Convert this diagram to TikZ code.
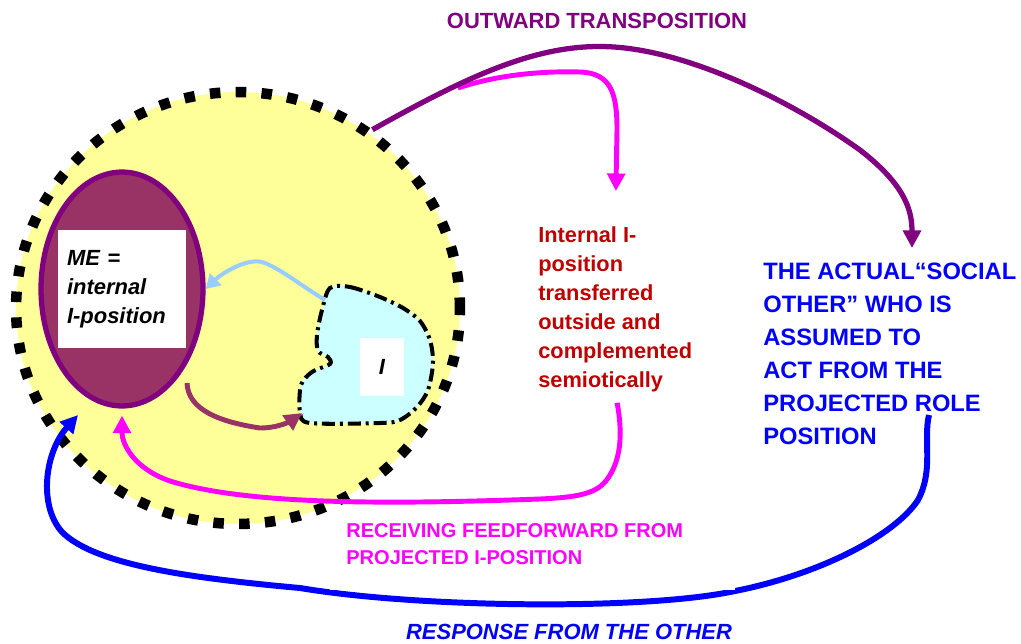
\documentclass[tikz,border=0pt]{standalone}
\usepackage{fontspec}
\setmainfont{Liberation Sans}
\usetikzlibrary{positioning, shapes.geometric, arrows.meta}
\definecolor{selfyellow}{HTML}{FFFF99}
\definecolor{mepurple}{HTML}{800080}
\definecolor{memaroon}{HTML}{993366}
\definecolor{icyan}{HTML}{CCFFFF}
\definecolor{skyarrow}{HTML}{99CCFF}
\definecolor{feedmagenta}{HTML}{FF00FF}
\definecolor{otherblue}{HTML}{0000FF}
\definecolor{transred}{HTML}{C00000}

\begin{document}
\begin{tikzpicture}[x=0.02cm, y=-0.02cm,
    flow/.style={line width=2.8pt, -{Triangle[length=10pt, width=10pt]}},
    whitebox/.style={fill=white, inner sep=0pt},
    notetext/.style={align=left, inner sep=0pt, anchor=north west}]
  \useasboundingbox (0,0) rectangle (1021,643);

  % the self, with the I-positions inside
  \node[ellipse, fill=selfyellow, draw=black, line width=6pt,
        dash pattern=on 6pt off 8.7pt,
        minimum width=8.88cm, minimum height=8.64cm] (self) at (238,308) {};
  \node[ellipse, fill=memaroon, draw=mepurple, line width=3pt,
        minimum width=3.24cm, minimum height=4.68cm] (me) at (122,289) {};
  \node[whitebox, minimum width=2.56cm, minimum height=2.36cm,
        text width=2.2cm, align=left,
        font=\fontsize{12.5}{16.5}\selectfont\bfseries\itshape] (metext) at (me)
    {ME =\\internal\\I-position};

  % the I
  \draw[fill=icyan, line width=2.3pt,
        dash pattern=on 7.4pt off 2.8pt on 1.7pt off 2.8pt]
    plot[smooth cycle] coordinates {(330,288) (350,287) (380,297) (403,308)
      (420,321) (430,340) (433,363) (428,390) (417,407) (400,420) (380,423)
      (310,423) (300,412) (301,385) (312,372) (330,364) (328,357) (318,351)
      (317,335) (322,310)};
  \node[whitebox, minimum width=0.88cm, minimum height=1.16cm,
        font=\fontsize{12.5}{15}\selectfont\bfseries\itshape] (itext) at (382,367) {I};

  \coordinate (blobtop) at (325,300);
  \coordinate (blobfoot) at (302,413);
  \coordinate (mefoot) at (187,383);

  \draw[flow, skyarrow, line width=2.3pt, -{Triangle[length=8pt, width=9pt]}]
    (blobtop) .. controls (300,285) and (280,268) .. (262,262)
    .. controls (245,258) and (220,275) .. (me.east);
  \draw[flow, memaroon] (mefoot) .. controls (188,410) and (220,422) .. (260,428)
    .. controls (280,428) and (292,420) .. (blobfoot);

  % texts
  \node[font=\fontsize{12.5}{15}\selectfont\bfseries, mepurple] (outward) at (597,21)
    {OUTWARD TRANSPOSITION};
  \node[notetext, transred, font=\fontsize{12.4}{16.5}\selectfont\bfseries] (internal) at (538,226)
    {Internal I-\\position\\transferred\\outside and\\complemented\\semiotically};
  \node[notetext, otherblue, font=\fontsize{13.5}{18.7}\selectfont\bfseries] (other) at (763,263)
    {THE ACTUAL“SOCIAL\\OTHER” WHO IS\\ASSUMED TO\\ACT FROM THE\\PROJECTED ROLE\\POSITION};
  \node[font=\fontsize{12.5}{15}\selectfont\bfseries\itshape, otherblue] (response) at (569,632)
    {RESPONSE FROM THE OTHER};

  \coordinate (fork) at (458,88);
  \coordinate (othertop) at (912,248);
  \coordinate (otherfoot) at (929,415);
  \coordinate (backtip) at (78,415);

  % outward transposition
  \draw[flow, feedmagenta, shorten >=0.7cm] (fork) .. controls (500,74) and (545,71) .. (580,72)
    .. controls (612,73) and (617,95) .. (617,130) -- (internal.north);
  \draw[flow, mepurple, line width=3pt] (self.53) .. controls (470,75) and (540,42) .. (614,47)
    .. controls (690,52) and (790,100) .. (860,150)
    .. controls (905,185) and (912,210) .. (othertop);

  % feedforward and response
  \draw[flow, feedmagenta, shorten <=0.22cm, shorten >=0.14cm] (internal.south)
    .. controls (622,430) and (622,455) .. (610,475)
    .. controls (600,492) and (585,497) .. (540,499)
    .. controls (400,504) and (250,506) .. (170,481)
    .. controls (135,469) and (122,445) .. (me.south);
  \draw[flow, otherblue, line width=3.4pt] (otherfoot)
    .. controls (923,440) and (934,470) .. (918,500)
    .. controls (895,535) and (820,575) .. (730,592)
    .. controls (640,610) and (420,608) .. (300,588)
    .. controls (190,578) and (95,565) .. (62,532)
    .. controls (38,505) and (45,452) .. (backtip);

  \node[whitebox, minimum width=8.1cm, minimum height=1.6cm, anchor=north west] (fwdbox) at (330,510) {};
  \node[notetext, feedmagenta, font=\fontsize{11.4}{15.2}\selectfont\bfseries,
        below right=0.26cm and 0.32cm of fwdbox.north west] (feedfwd)
    {RECEIVING FEEDFORWARD FROM\\PROJECTED I-POSITION};
\end{tikzpicture}
\end{document}
